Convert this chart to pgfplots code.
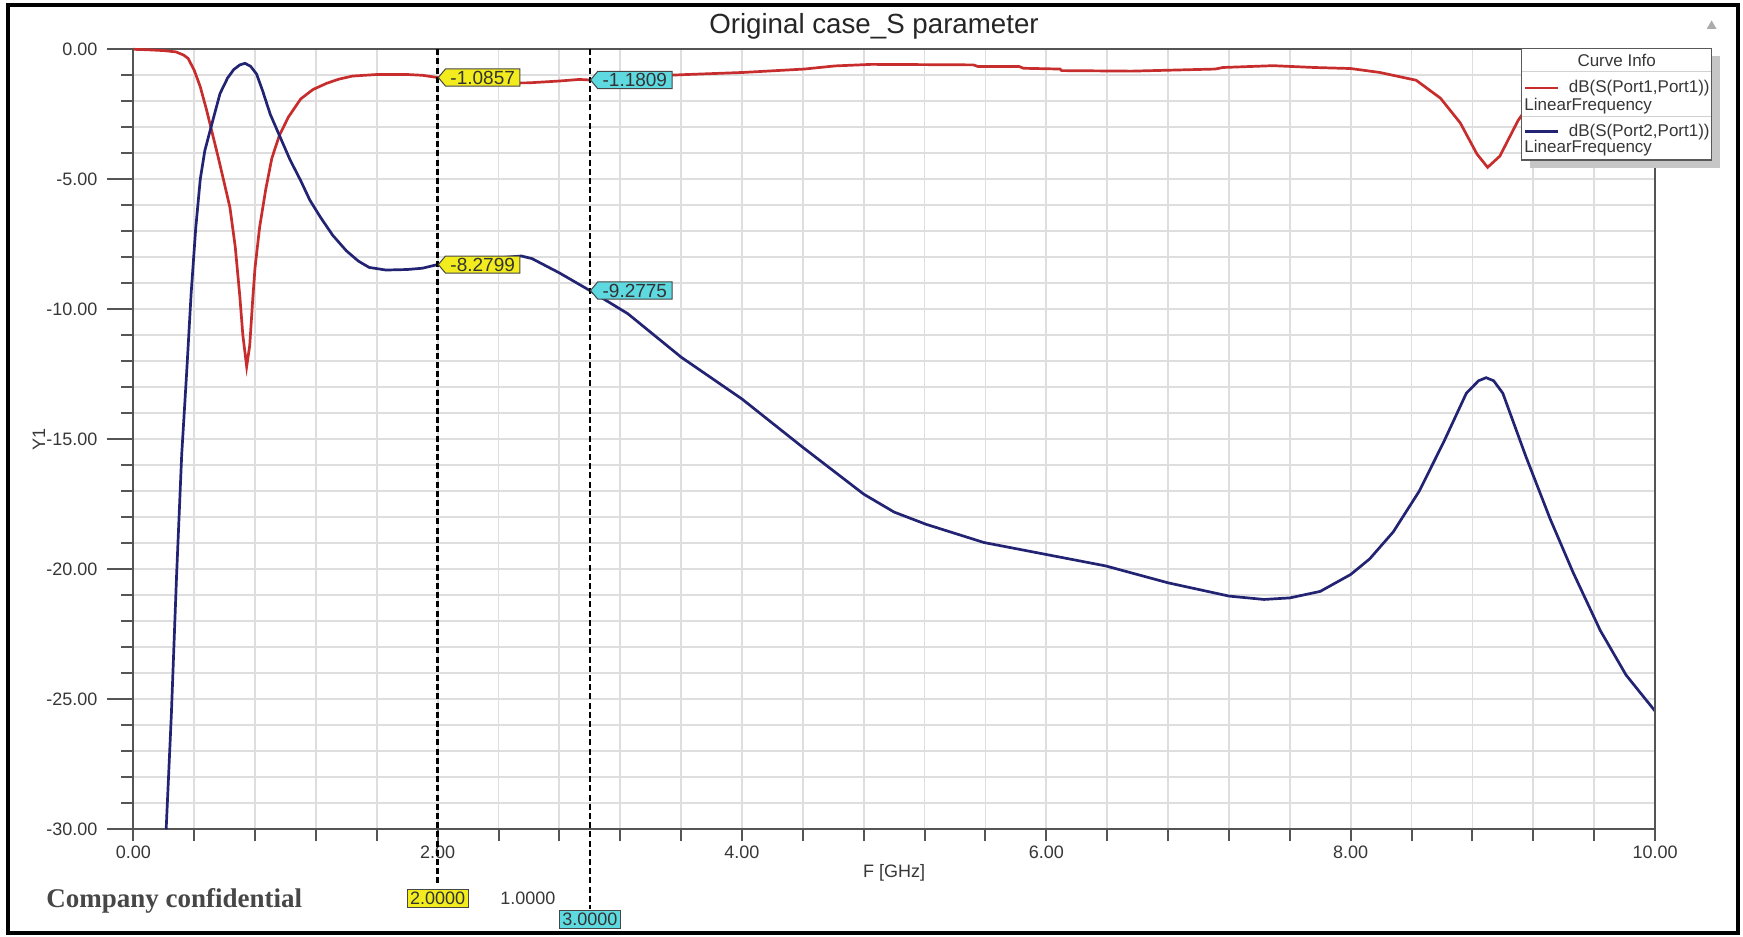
\documentclass[border=0pt]{standalone}
\usepackage{fontspec}
\setmainfont{Liberation Sans}
\newfontfamily\serifface{Liberation Serif}
\usepackage{pgfplots}
\pgfplotsset{compat=1.18}
\usetikzlibrary{shapes.symbols}
\definecolor{sred}{RGB}{200,45,45}
\definecolor{sblue}{RGB}{35,35,115}
\definecolor{gridc}{RGB}{222,222,222}
\definecolor{framec}{RGB}{85,85,85}
\definecolor{txt}{RGB}{55,55,55}
\definecolor{myyellow}{RGB}{242,236,30}
\definecolor{mycyan}{RGB}{95,217,224}

\pgfplotstableread{
x y
0.00 0.00
0.10 -0.02
0.20 -0.05
0.28 -0.10
0.33 -0.22
0.36 -0.35
0.40 -0.80
0.44 -1.44
0.48 -2.30
0.51 -3.01
0.56 -4.20
0.60 -5.20
0.635 -6.08
0.67 -7.60
0.70 -9.50
0.72 -11.0
0.745 -12.2
0.765 -11.4
0.785 -9.6
0.80 -8.4
0.83 -6.85
0.87 -5.40
0.91 -4.20
0.96 -3.31
1.02 -2.60
1.10 -1.91
1.18 -1.55
1.27 -1.31
1.35 -1.15
1.44 -1.03
1.60 -0.97
1.80 -0.97
1.90 -1.00
2.00 -1.0857
2.10 -1.20
2.20 -1.27
2.40 -1.30
2.60 -1.29
2.80 -1.22
2.93 -1.16
3.00 -1.1809
3.30 -1.05
3.64 -0.97
4.01 -0.89
4.41 -0.76
4.61 -0.64
4.85 -0.58
5.20 -0.59
5.52 -0.60
5.55 -0.66
5.82 -0.66
5.85 -0.73
6.09 -0.76
6.10 -0.82
6.56 -0.84
7.11 -0.76
7.16 -0.70
7.49 -0.63
7.76 -0.70
8.00 -0.74
8.19 -0.89
8.43 -1.19
8.59 -1.88
8.72 -2.83
8.83 -4.03
8.90 -4.54
8.98 -4.11
9.10 -2.74
9.20 -1.90
9.40 -1.20
9.70 -0.90
10.0 -0.80
}\sone

\pgfplotstableread{
x y
0.216 -30.0
0.25 -25.6
0.284 -20.3
0.318 -15.6
0.351 -12.4
0.38 -9.4
0.41 -6.9
0.44 -5.0
0.47 -3.9
0.51 -3.01
0.57 -1.70
0.62 -1.10
0.66 -0.78
0.70 -0.60
0.734 -0.54
0.77 -0.65
0.81 -0.95
0.85 -1.60
0.90 -2.50
0.96 -3.31
1.03 -4.25
1.10 -5.05
1.16 -5.80
1.23 -6.46
1.31 -7.15
1.40 -7.75
1.48 -8.15
1.55 -8.39
1.66 -8.49
1.80 -8.47
1.90 -8.42
2.00 -8.2799
2.20 -8.15
2.40 -8.02
2.55 -7.95
2.62 -8.05
2.80 -8.60
3.00 -9.2775
3.25 -10.17
3.60 -11.84
4.00 -13.45
4.40 -15.31
4.80 -17.11
5.00 -17.80
5.21 -18.27
5.59 -18.97
5.99 -19.42
6.39 -19.87
6.80 -20.52
7.20 -21.03
7.43 -21.16
7.60 -21.10
7.80 -20.85
8.00 -20.20
8.125 -19.60
8.28 -18.56
8.45 -17.00
8.61 -15.12
8.76 -13.23
8.84 -12.75
8.89 -12.63
8.94 -12.75
9.00 -13.23
9.15 -15.64
9.31 -18.05
9.46 -20.10
9.64 -22.35
9.81 -24.07
10.00 -25.45
}\stwo

\begin{document}
\begin{tikzpicture}[x=1pt,y=1pt]
\begin{axis}[
  at={(66.65pt,53.35pt)}, anchor=south west,
  width=760.85pt, height=390pt, scale only axis,
  xmin=0, xmax=10, ymin=-30, ymax=0,
  clip=false,
  xtick={0,2,4,6,8,10}, xticklabels={0.00,2.00,4.00,6.00,8.00,10.00},
  ytick={-30,-25,-20,-15,-10,-5,0},
  yticklabels={-30.00,-25.00,-20.00,-15.00,-10.00,-5.00,0.00},
  minor x tick num=4, minor y tick num=4,
  xtick pos=left, ytick pos=left,
  grid=both,
  major grid style={gridc, line width=0.9pt},
  minor grid style={gridc, line width=0.9pt},
  axis line style={framec, line width=1pt},
  tick align=outside,
  major tick length=6pt, minor tick length=6pt,
  tick style={framec, line width=1pt},
  ticklabel style={font=\fontsize{9}{10}\selectfont, text=txt},
  yticklabel style={anchor=east, inner sep=0pt, xshift=-11.8pt},
  xticklabel style={anchor=north, inner sep=0pt, yshift=-2pt},
  xlabel={F [GHz]}, ylabel={Y1},
  every axis x label/.style={at={(axis description cs:0.5,0)}, anchor=center, yshift=-21.85pt, font=\fontsize{9}{10}\selectfont, text=txt},
  every axis y label/.style={at={(axis description cs:0,0.5)}, rotate=90, anchor=center, yshift=47.15pt, font=\fontsize{9}{10}\selectfont, text=txt},
]
\addplot[sred, line width=1.35pt, no markers] table {\sone};
\addplot[sblue, line width=1.35pt, no markers] table {\stwo};
\addplot[black, line width=1.2pt, dash pattern=on 3pt off 1.6pt, no markers, forget plot] coordinates {(2,0) (2,-32.2)};
\addplot[black, line width=1.2pt, dash pattern=on 3pt off 1.6pt, no markers, forget plot] coordinates {(3,0) (3,-33.05)};
\begin{scope}[every node/.style={signal, signal to=west, signal pointer angle=100, draw=gray!55!black, line width=0.5pt, inner xsep=2.5pt, inner ysep=0.9pt, font=\fontsize{9.5}{10}\selectfont, anchor=west, text=black!80}]
\node[fill=myyellow] at (axis cs:2,-1.0857) {-1.0857};
\node[fill=myyellow] at (axis cs:2,-8.2799) {-8.2799};
\node[fill=mycyan] at (axis cs:3,-1.1809) {-1.1809};
\node[fill=mycyan] at (axis cs:3,-9.2775) {-9.2775};
\end{scope}
\node[fill=myyellow, draw=gray!55!black, line width=0.5pt, inner xsep=1.5pt, inner ysep=1.2pt, font=\fontsize{9}{10}\selectfont, text=black!80] at (axis cs:2,-32.66) {2.0000};
\node[fill=mycyan, draw=gray!55!black, line width=0.5pt, inner xsep=1.5pt, inner ysep=1.2pt, font=\fontsize{9}{10}\selectfont, text=black!80] at (axis cs:3,-33.47) {3.0000};
\node[font=\fontsize{9}{10}\selectfont, text=txt] at (axis cs:2.593,-32.66) {1.0000};
\end{axis}
% long major ticks on the y axis (no labels)
\begin{axis}[
  at={(66.65pt,53.35pt)}, anchor=south west,
  width=760.85pt, height=390pt, scale only axis,
  xmin=0, xmax=10, ymin=-30, ymax=0,
  hide x axis, ytick pos=left,
  ytick={-30,-25,-20,-15,-10,-5,0}, yticklabels={}, yminorticks=false,
  tick align=outside, major tick length=13pt,
  tick style={framec, line width=1pt},
  axis line style={framec, line width=1pt},
]
\end{axis}
% outer frame
\draw[black, line width=1.6pt] (4pt,1.5pt) rectangle (869pt,465.5pt);
% title
\node[anchor=base, font=\fontsize{13.85}{16}\selectfont, text=black!85] at (437pt,451pt) {Original case\_S parameter};
% corner triangle
\fill[gray!65] (853.3pt,453.5pt) -- (858.3pt,453.5pt) -- (855.8pt,457.8pt) -- cycle;
% legend
\fill[gray!45] (764.85pt,384pt) rectangle (859.85pt,439.85pt);
\draw[gray!70!black, fill=white, line width=0.6pt] (760.85pt,388pt) rectangle (855.85pt,443.85pt);
\draw[gray!35, line width=0.5pt] (761.2pt,432.15pt) -- (855.5pt,432.15pt);
\draw[gray!35, line width=0.5pt] (761.2pt,409.65pt) -- (855.5pt,409.65pt);
\node[font=\fontsize{8.5}{10}\selectfont, text=txt] at (808.35pt,437.6pt) {Curve Info};
\draw[sred, line width=1.2pt] (762.5pt,423.85pt) -- (779pt,423.85pt);
\node[anchor=east, inner sep=0pt, font=\fontsize{8.5}{10}\selectfont, text=txt] at (855pt,423.85pt) {dB(S(Port1,Port1))};
\node[anchor=west, inner sep=0pt, font=\fontsize{8.5}{10}\selectfont, text=txt] at (762pt,415pt) {LinearFrequency};
\draw[sblue, line width=1.2pt] (762.5pt,402.15pt) -- (779pt,402.15pt);
\node[anchor=east, inner sep=0pt, font=\fontsize{8.5}{10}\selectfont, text=txt] at (855pt,402.15pt) {dB(S(Port2,Port1))};
\node[anchor=west, inner sep=0pt, font=\fontsize{8.5}{10}\selectfont, text=txt] at (762pt,393.85pt) {LinearFrequency};
% confidential note
\node[anchor=base west, inner sep=0pt, font=\serifface\bfseries\fontsize{13.5}{15}\selectfont, text=black!72] at (23pt,14.4pt) {Company confidential};
\pgfresetboundingbox
\useasboundingbox (0,0) rectangle (871.5pt,468pt);
\end{tikzpicture}
\end{document}
